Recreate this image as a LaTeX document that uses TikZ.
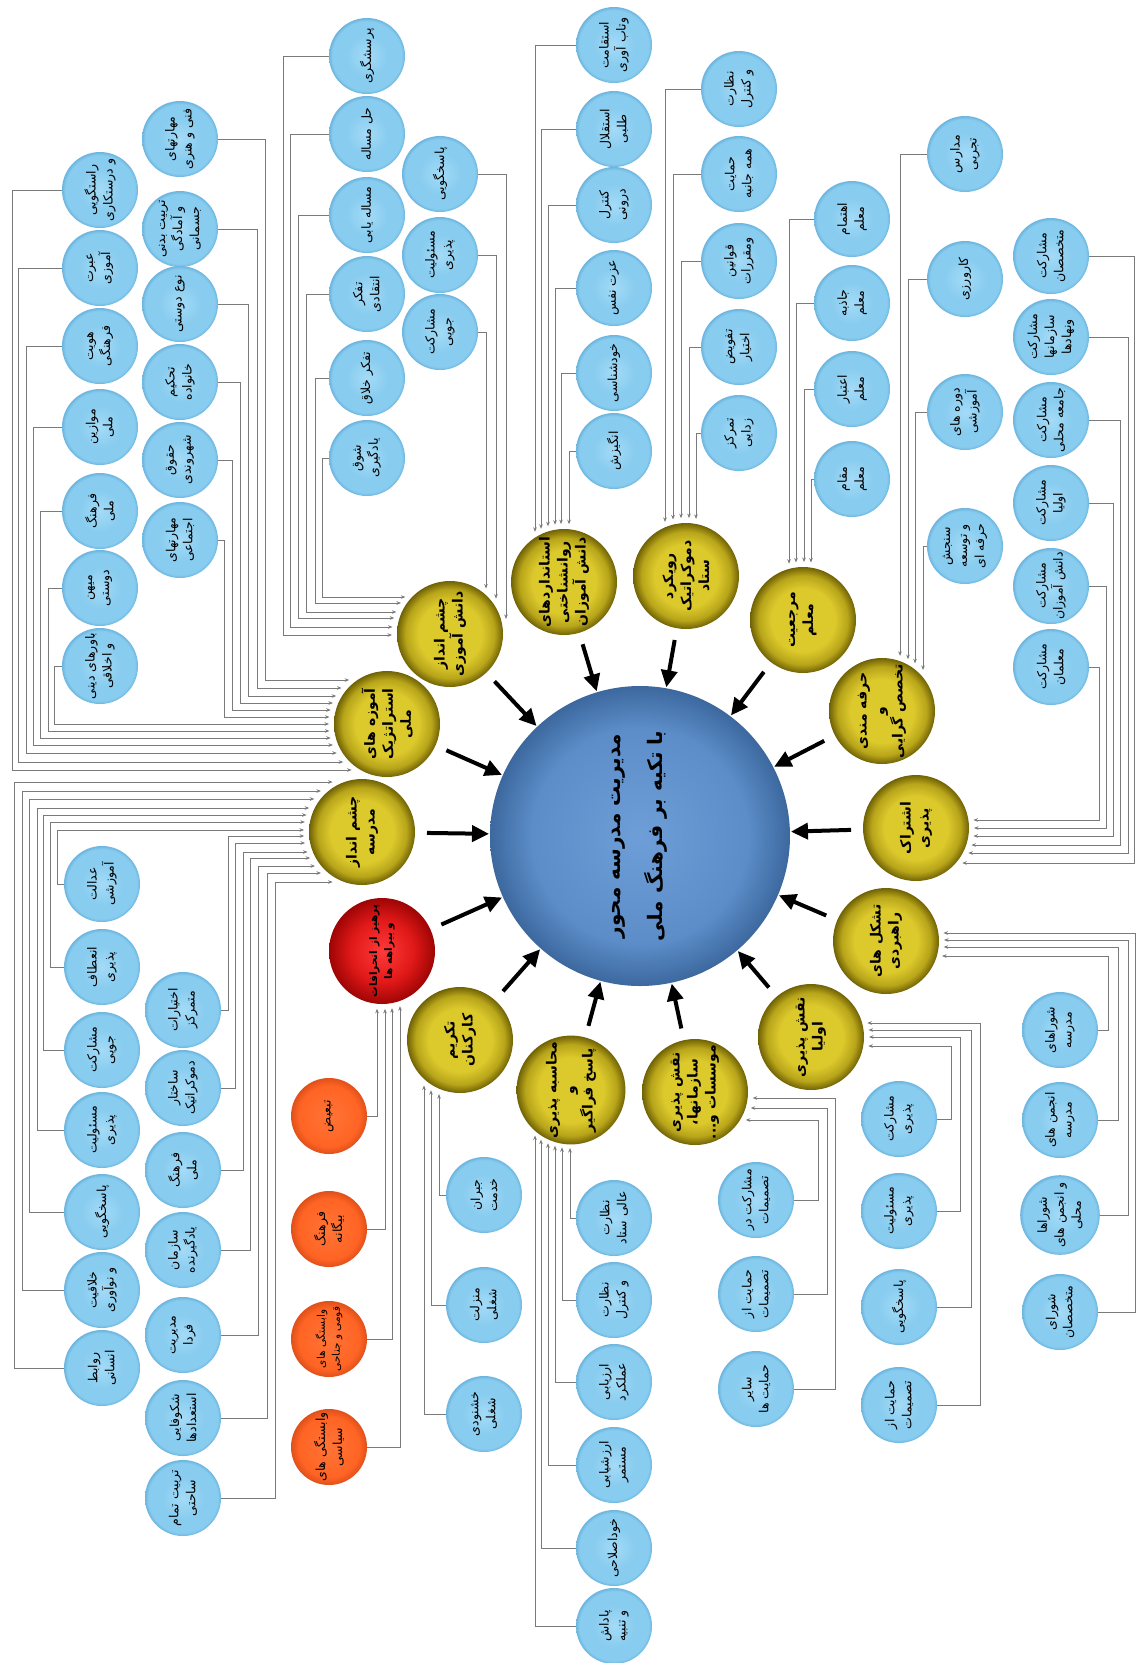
\documentclass[tikz,border=0pt]{standalone}
\usepackage{fontspec}
\usetikzlibrary{calc,arrows.meta}
\newfontfamily\farsi[Script=Arabic]{DejaVu Sans}
\TeXXeTstate=1
\definecolor{skyA}{HTML}{A4DBF7}
\definecolor{skyB}{HTML}{88CCEF}
\definecolor{skyC}{HTML}{6AB4DE}
\definecolor{olA}{HTML}{DCC92C}
\definecolor{olB}{HTML}{B8A51A}
\definecolor{olC}{HTML}{706205}
\definecolor{redA}{HTML}{FF3A3A}
\definecolor{redB}{HTML}{E01818}
\definecolor{redC}{HTML}{9E0505}
\definecolor{orA}{HTML}{FF7436}
\definecolor{orB}{HTML}{FF6424}
\definecolor{orC}{HTML}{E0501A}
\definecolor{cenA}{HTML}{6E9ED7}
\definecolor{cenB}{HTML}{5C8DC8}
\definecolor{cenC}{HTML}{3C689E}
\definecolor{lnG}{HTML}{7A7A7A}
\pgfdeclareradialshading{shB}{\pgfpoint{0bp}{0bp}}{color(0bp)=(skyA); color(14bp)=(skyB); color(23bp)=(skyB); color(25bp)=(skyC); color(50bp)=(skyC)}
\pgfdeclareradialshading{shY}{\pgfpoint{0bp}{0bp}}{color(0bp)=(olA); color(15bp)=(olA); color(21bp)=(olB); color(25bp)=(olC); color(50bp)=(olC)}
\pgfdeclareradialshading{shR}{\pgfpoint{0bp}{0bp}}{color(0bp)=(redA); color(15bp)=(redB); color(25bp)=(redC); color(50bp)=(redC)}
\pgfdeclareradialshading{shO}{\pgfpoint{0bp}{0bp}}{color(0bp)=(orA); color(20bp)=(orB); color(25bp)=(orC); color(50bp)=(orC)}
\pgfdeclareradialshading{shC}{\pgfpoint{0bp}{0bp}}{color(0bp)=(cenA); color(18bp)=(cenB); color(25bp)=(cenC); color(50bp)=(cenC)}
\tikzset{
  bc/.style={circle, minimum size=76pt, inner sep=0pt, outer sep=0pt, rotate=90,
    shade, shading=shB, align=center, font=\farsi\fontsize{12.5}{17}\selectfont},
  oc/.style={bc, shading=shO},
  yc/.style={circle, minimum size=106pt, inner sep=0pt, outer sep=0pt, rotate=90,
    shade, shading=shY, align=center, font=\farsi\bfseries\fontsize{14}{18}\selectfont},
  rc/.style={yc, shading=shR, font=\farsi\bfseries\fontsize{10.5}{15}\selectfont},
  cc/.style={circle, minimum size=300pt, inner sep=0pt, outer sep=0pt, rotate=90,
    shade, shading=shC, align=center, font=\farsi\bfseries\fontsize{20}{42}\selectfont},
  conn/.style={draw=lnG, line width=0.8pt, -{Stealth[length=4.5pt,width=3.6pt]}},
  bigar/.style={line width=4pt, -{Triangle[length=17pt,width=16pt]}, shorten <=12pt, shorten >=1pt}
}
% connectors: #1 source anchor, #2 lane x, #3 target, #4 offset
\newcommand\inW[4]{\draw[conn] (#1) -- (#1 -| #2,0) |- ($(#3)+({-sqrt(3364-(#4)*(#4))},{#4})$);}
\newcommand\inE[4]{\draw[conn] (#1) -- (#1 -| #2,0) |- ($(#3)+({sqrt(3364-(#4)*(#4))},{#4})$);}
\newcommand\inT[3]{\draw[conn] (#1) -| ($(#2)+({#3},{-sqrt(3364-(#3)*(#3))})$);}
\newcommand\inB[3]{\draw[conn] (#1) -| ($(#2)+({#3},{sqrt(3364-(#3)*(#3))})$);}
\begin{document}
\begin{tikzpicture}[x=1pt,y=-1pt]
\useasboundingbox (0,0) rectangle (1136,1663);
\fill[white] (0,0) rectangle (1136,1663);
% centre
\node[cc] (cen) at (640,836) {\beginR مدیریت مدرسه محور\endR\\\beginR با تکیه بر فرهنگ ملی\endR};
% main factors
\node[yc] (yN) at (362,832) {\beginR چشم انداز\endR\\\beginR مدرسه\endR};
\node[yc] (yA) at (387,724) {\beginR آموزه های\endR\\\beginR استراتژیک\endR\\\beginR ملی\endR};
\node[yc] (yB) at (450,634) {\beginR چشم انداز\endR\\\beginR دانش آموزی\endR};
\node[yc] (yC) at (564,582) {\beginR استانداردهای\endR\\\beginR روانشناختی\endR\\\beginR دانش آموزان\endR};
\node[yc] (yD) at (686,576) {\beginR رویکرد\endR\\\beginR دموکراتیک\endR\\\beginR ستاد\endR};
\node[yc] (yE) at (803,620) {\beginR مرجعیت\endR\\\beginR معلم\endR};
\node[yc] (yF) at (882,711) {\beginR حرفه مندی\endR\\\beginR و\endR\\\beginR تخصص گرایی\endR};
\node[yc] (yG) at (916,828) {\beginR اشتراک\endR\\\beginR پذیری\endR};
\node[yc] (yH) at (886,941) {\beginR تشکل های\endR\\\beginR راهبردی\endR};
\node[yc] (yI) at (811,1037) {\beginR نقش پذیری\endR\\\beginR اولیا\endR};
\node[yc] (yJ) at (695,1092) {\beginR نقش پذیری\endR\\\beginR سازمانها،\endR\\\beginR موسسات و...\endR};
\node[yc] (yK) at (571,1090) {\beginR محاسبه پذیری\endR\\\beginR و\endR\\\beginR پاسخ فراگیر\endR};
\node[yc] (yL) at (460,1040) {\beginR تکریم\endR\\\beginR کارکنان\endR};
\node[rc] (yR) at (382,951) {\beginR پرهیز از انحرافات\endR\\\beginR و بیراهه ها\endR};
\foreach \n in {yN,yA,yB,yC,yD,yE,yF,yG,yH,yI,yJ,yK,yL,yR}
  \draw[bigar] (\n) -- (cen);
% A
\node[bc] (a1) at (100,190) {\beginR راستگویی\endR\\\beginR و درستکاری\endR};
\node[bc] (a2) at (100,268) {\beginR عبرت\endR\\\beginR آموزی\endR};
\node[bc] (a3) at (100,346) {\beginR هویت\endR\\\beginR فرهنگی\endR};
\node[bc] (a4) at (100,427) {\beginR موازین\endR\\\beginR ملی\endR};
\node[bc] (a5) at (100,511) {\beginR فرهنگ\endR\\\beginR ملی\endR};
\node[bc] (a6) at (100,588) {\beginR میهن\endR\\\beginR دوستی\endR};
\node[bc] (a7) at (100,666) {\beginR باورهای دینی\endR\\\beginR و اخلاقی\endR};
\node[bc] (a8) at (180,139) {\beginR مهارتهای\endR\\\beginR فنی و هنری\endR};
\node[bc] (a9) at (180,229) {\beginR تربیت بدنی\endR\\\beginR و آمادگی\endR\\\beginR جسمانی\endR};
\node[bc] (a10) at (180,304) {\beginR نوع دوستی\endR};
\node[bc] (a11) at (180,382) {\beginR تحکیم\endR\\\beginR خانواده\endR};
\node[bc] (a12) at (180,460) {\beginR حقوق\endR\\\beginR شهروندی\endR};
\node[bc] (a13) at (180,540) {\beginR مهارتهای\endR\\\beginR اجتماعی\endR};
% B
\node[bc] (b1) at (367,56) {\beginR پرسشگری\endR};
\node[bc] (b2) at (367,134) {\beginR حل مساله\endR};
\node[bc] (b3) at (367,215) {\beginR مساله یابی\endR};
\node[bc] (b4) at (367,294) {\beginR تفکر\endR\\\beginR انتقادی\endR};
\node[bc] (b5) at (367,378) {\beginR تفکر خلاق\endR};
\node[bc] (b6) at (367,458) {\beginR شوق\endR\\\beginR یادگیری\endR};
\node[bc] (b7) at (440,174) {\beginR پاسخگویی\endR};
\node[bc] (b8) at (440,255) {\beginR مسئولیت\endR\\\beginR پذیری\endR};
\node[bc] (b9) at (440,332) {\beginR مشارکت\endR\\\beginR جویی\endR};
% C
\node[bc] (c1) at (614,45) {\beginR استقامت\endR\\\beginR وتاب آوری\endR};
\node[bc] (c2) at (614,129) {\beginR استقلال\endR\\\beginR طلبی\endR};
\node[bc] (c3) at (614,205) {\beginR کنترل\endR\\\beginR درونی\endR};
\node[bc] (c4) at (614,288) {\beginR عزت نفس\endR};
\node[bc] (c5) at (614,373) {\beginR خودشناسی\endR};
\node[bc] (c6) at (614,451) {\beginR انگیزش\endR};
% D
\node[bc] (d1) at (739,89) {\beginR نظارت\endR\\\beginR و کنترل\endR};
\node[bc] (d2) at (739,174) {\beginR حمایت\endR\\\beginR همه جانبه\endR};
\node[bc] (d3) at (739,261) {\beginR قوانین\endR\\\beginR ومقررات\endR};
\node[bc] (d4) at (739,347) {\beginR تفویض\endR\\\beginR اختیار\endR};
\node[bc] (d5) at (739,433) {\beginR تمرکز\endR\\\beginR زدایی\endR};
% E
\node[bc] (e1) at (852,219) {\beginR اهتمام\endR\\\beginR معلم\endR};
\node[bc] (e2) at (852,303) {\beginR جاذبه\endR\\\beginR معلم\endR};
\node[bc] (e3) at (852,389) {\beginR اعتبار\endR\\\beginR معلم\endR};
\node[bc] (e4) at (852,479) {\beginR مقام\endR\\\beginR معلم\endR};
% F
\node[bc] (f1) at (965,154) {\beginR مدارس\endR\\\beginR تجربی\endR};
\node[bc] (f2) at (965,279) {\beginR کارورزی\endR};
\node[bc] (f3) at (965,412) {\beginR دوره های\endR\\\beginR آموزشی\endR};
\node[bc] (f4) at (965,546) {\beginR سنجش\endR\\\beginR و توسعه\endR\\\beginR حرفه ای\endR};
% G
\node[bc] (g1) at (1051,256) {\beginR مشارکت\endR\\\beginR متخصصان\endR};
\node[bc] (g2) at (1051,337) {\beginR مشارکت\endR\\\beginR سازمانها\endR\\\beginR ونهادها\endR};
\node[bc] (g3) at (1051,420) {\beginR مشارکت\endR\\\beginR جامعه محلی\endR};
\node[bc] (g4) at (1051,503) {\beginR مشارکت\endR\\\beginR اولیا\endR};
\node[bc] (g5) at (1051,586) {\beginR مشارکت\endR\\\beginR دانش آموزان\endR};
\node[bc] (g6) at (1051,667) {\beginR مشارکت\endR\\\beginR معلمان\endR};
% H
\node[bc] (h1) at (1060,1030) {\beginR شوراهای\endR\\\beginR مدرسه\endR};
\node[bc] (h2) at (1060,1120) {\beginR انجمن های\endR\\\beginR مدرسه\endR};
\node[bc] (h3) at (1060,1215) {\beginR شوراها\endR\\\beginR و انجمن های\endR\\\beginR محلی\endR};
\node[bc] (h4) at (1060,1312) {\beginR شورای\endR\\\beginR متخصصان\endR};
% I
\node[bc] (i1) at (899,1119) {\beginR مشارکت\endR\\\beginR پذیری\endR};
\node[bc] (i2) at (899,1211) {\beginR مسئولیت\endR\\\beginR پذیری\endR};
\node[bc] (i3) at (899,1307) {\beginR پاسخگویی\endR};
\node[bc] (i4) at (899,1405) {\beginR حمایت از\endR\\\beginR تصمیمات\endR};
% J
\node[bc] (j1) at (756,1200) {\beginR مشارکت در\endR\\\beginR تصمیمات\endR};
\node[bc] (j2) at (756,1294) {\beginR حمایت از\endR\\\beginR تصمیمات\endR};
\node[bc] (j3) at (756,1389) {\beginR سایر\endR\\\beginR حمایت ها\endR};
% K
\node[bc] (k1) at (614,1218) {\beginR نظارت\endR\\\beginR عالی ستاد\endR};
\node[bc] (k2) at (614,1300) {\beginR نظارت\endR\\\beginR و کنترل\endR};
\node[bc] (k3) at (614,1382) {\beginR ارزیابی\endR\\\beginR عملکرد\endR};
\node[bc] (k4) at (614,1465) {\beginR ارزشیابی\endR\\\beginR مستمر\endR};
\node[bc] (k5) at (614,1548) {\beginR خوداصلاحی\endR};
\node[bc] (k6) at (614,1626) {\beginR پاداش\endR\\\beginR و تنبیه\endR};
% L
\node[bc] (l1) at (484,1195) {\beginR جبران\endR\\\beginR خدمت\endR};
\node[bc] (l2) at (484,1305) {\beginR منزلت\endR\\\beginR شغلی\endR};
\node[bc] (l3) at (484,1414) {\beginR خشنودی\endR\\\beginR شغلی\endR};
% orange
\node[oc] (o1) at (329,1116) {\beginR تبعیض\endR};
\node[oc] (o2) at (329,1229) {\beginR فرهنگ\endR\\\beginR بیگانه\endR};
\node[oc, font=\farsi\fontsize{10.5}{15}\selectfont] (o3) at (329,1339) {\beginR وابستگی های\endR\\\beginR قومی و جناحی\endR};
\node[oc] (o4) at (329,1447) {\beginR وابستگی های\endR\\\beginR سیاسی\endR};
% N
\node[bc] (n1) at (102,884) {\beginR عدالت\endR\\\beginR آموزشی\endR};
\node[bc] (n2) at (102,967) {\beginR انعطاف\endR\\\beginR پذیری\endR};
\node[bc] (n3) at (102,1050) {\beginR مشارکت\endR\\\beginR جویی\endR};
\node[bc] (n4) at (102,1130) {\beginR مسئولیت\endR\\\beginR پذیری\endR};
\node[bc] (n5) at (102,1212) {\beginR پاسخگویی\endR};
\node[bc] (n6) at (102,1290) {\beginR خلاقیت\endR\\\beginR و نوآوری\endR};
\node[bc] (n7) at (102,1368) {\beginR روابط\endR\\\beginR انسانی\endR};
\node[bc] (n8) at (183,1010) {\beginR اختیارات\endR\\\beginR متمرکز\endR};
\node[bc] (n9) at (183,1088) {\beginR ساختار\endR\\\beginR دموکراتیک\endR};
\node[bc] (n10) at (183,1170) {\beginR فرهنگ\endR\\\beginR ملی\endR};
\node[bc] (n11) at (183,1250) {\beginR سازمان\endR\\\beginR یادگیرنده\endR};
\node[bc] (n12) at (183,1335) {\beginR مدیریت\endR\\\beginR فردا\endR};
\node[bc] (n13) at (183,1418) {\beginR شکوفایی\endR\\\beginR استعدادها\endR};
\node[bc] (n14) at (183,1498) {\beginR تربیت تمام\endR\\\beginR ساحتی\endR};
% ---- connectors (nodes are turned 90: page west side = .north, page east side = .south)
\inW{a1.north}{12}{yA}{46}
\inW{a2.north}{18}{yA}{38}
\inW{a3.north}{26}{yA}{29}
\inW{a4.north}{33}{yA}{21}
\inW{a5.north}{40}{yA}{14}
\inW{a6.north}{48}{yA}{7}
\inW{a7.north}{54}{yA}{0}
\inW{a8.south}{265}{yA}{-44}
\inW{a9.south}{257}{yA}{-36}
\inW{a10.south}{248}{yA}{-28}
\inW{a11.south}{240}{yA}{-21}
\inW{a12.south}{232}{yA}{-14}
\inW{a13.south}{224}{yA}{-7}
\inW{b1.north}{283}{yB}{1}
\inW{b2.north}{290}{yB}{-7}
\inW{b3.north}{298}{yB}{-16}
\inW{b4.north}{306}{yB}{-22}
\inW{b5.north}{315}{yB}{-31}
\inW{b6.north}{322}{yB}{-37}
\inT{b7.south}{yB}{56}
\inT{b8.south}{yB}{46}
\inT{b9.south}{yB}{36}
\inT{c1.north}{yC}{-29}
\inT{c2.north}{yC}{-23}
\inT{c3.north}{yC}{-16}
\inT{c4.north}{yC}{-9}
\inT{c5.north}{yC}{-3}
\inT{c6.north}{yC}{5}
\inT{d1.north}{yD}{-21}
\inT{d2.north}{yD}{-13}
\inT{d3.north}{yD}{-5}
\inT{d4.north}{yD}{3}
\inT{d5.north}{yD}{10}
\inT{e1.north}{yE}{-14}
\inT{e2.north}{yE}{-7}
\inT{e3.north}{yE}{1}
\inT{e4.north}{yE}{8}
\inT{f1.north}{yF}{18}
\inT{f2.north}{yF}{26}
\inT{f3.north}{yF}{33}
\inT{f4.north}{yF}{41}
\inE{g1.south}{1134}{yG}{35}
\inE{g2.south}{1128}{yG}{25}
\inE{g3.south}{1120}{yG}{17}
\inE{g4.south}{1113}{yG}{8}
\inE{g5.south}{1106}{yG}{0}
\inE{g6.south}{1099}{yG}{-8}
\inE{h1.south}{1108}{yH}{15}
\inE{h2.south}{1118}{yH}{6}
\inE{h3.south}{1128}{yH}{-1}
\inE{h4.south}{1135}{yH}{-8}
\inE{i1.south}{951}{yI}{9}
\inE{i2.south}{960}{yI}{0}
\inE{i3.south}{971}{yI}{-7}
\inE{i4.south}{980}{yI}{-14}
\inE{j1.south}{818}{yJ}{28}
\inE{j2.south}{827}{yJ}{16}
\inE{j3.south}{835}{yJ}{6}
\inB{k1.north}{yK}{-1}
\inB{k2.north}{yK}{-9}
\inB{k3.north}{yK}{-16}
\inB{k4.north}{yK}{-23}
\inB{k5.north}{yK}{-30}
\inB{k6.north}{yK}{-36}
\inB{l1.north}{yL}{-21}
\inB{l2.north}{yL}{-29}
\inB{l3.north}{yL}{-36}
\inB{o1.south}{yR}{-5}
\inB{o2.south}{yR}{3}
\inB{o3.south}{yR}{10}
\inB{o4.south}{yR}{18}
\inW{n1.north}{57}{yN}{-2}
\inW{n2.north}{50}{yN}{-10}
\inW{n3.north}{43}{yN}{-17}
\inW{n4.north}{37}{yN}{-24}
\inW{n5.north}{29}{yN}{-33}
\inW{n6.north}{22}{yN}{-41}
\inW{n7.north}{14}{yN}{-50}
\inW{n8.south}{228}{yN}{4}
\inW{n9.south}{235}{yN}{11}
\inW{n10.south}{243}{yN}{20}
\inW{n11.south}{250}{yN}{26}
\inW{n12.south}{258}{yN}{34}
\inW{n13.south}{267}{yN}{41}
\inW{n14.south}{275}{yN}{50}
\end{tikzpicture}
\end{document}
